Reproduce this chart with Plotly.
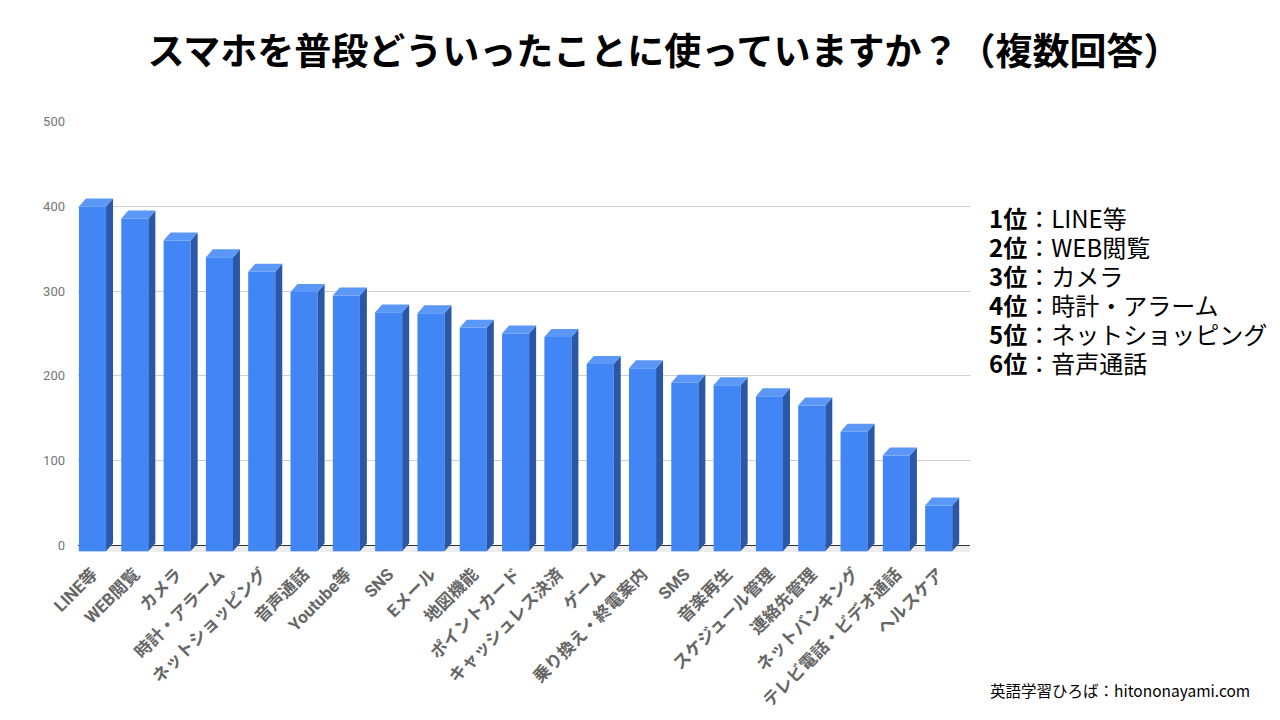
import plotly.graph_objects as go

# 回答項目と回答数
categories = [
    'LINE等', 'WEB閲覧', 'カメラ', '時計・アラーム', 'ネットショッピング', '音声通話',
    'Youtube等', 'SNS', 'Eメール', '地図機能', 'ポイントカード', 'キャッシュレス決済',
    'ゲーム', '乗り換え・終電案内', 'SMS', '音楽再生', 'スケジュール管理', '連絡先管理',
    'ネットバンキング', 'テレビ電話・ビデオ通話', 'ヘルスケア',
]
counts = [400, 386, 360, 340, 323, 299, 295, 275, 274, 257, 250, 246,
          214, 209, 192, 189, 176, 165, 134, 106, 47]

ranking = ['LINE等', 'WEB閲覧', 'カメラ', '時計・アラーム', 'ネットショッピング', '音声通話']

y_ticks = [0, 100, 200, 300, 400, 500]

# 3D風の見た目
front = '#4285F4'
side = '#2B58A6'
top = '#5B97F6'
w = 0.64      # 前面の幅
dx = 0.165    # 奥行き（x方向）
dy = 9.4      # 奥行き（y方向）
floor = 7     # 前面が基準線より下に出る分

xs = list(range(len(categories)))

side_x, side_y, top_x, top_y = [], [], [], []
for x, v in zip(xs, counts):
    r = x + w / 2
    l = x - w / 2
    side_x += [r, r, r + dx, r + dx, r, None]
    side_y += [-floor, v, v + dy, -floor + dy, -floor, None]
    top_x += [l, r, r + dx, l + dx, l, None]
    top_y += [v, v, v + dy, v + dy, v, None]

fig = go.Figure()
fig.add_trace(go.Bar(
    x=xs, y=[v + floor for v in counts], base=-floor, width=w,
    marker=dict(color=front, line=dict(width=0)),
    customdata=counts, hovertemplate='%{customdata}<extra></extra>',
))
fig.add_trace(go.Scatter(x=side_x, y=side_y, mode='lines', fill='toself',
                         fillcolor=side, line=dict(width=0), hoverinfo='skip'))
fig.add_trace(go.Scatter(x=top_x, y=top_y, mode='lines', fill='toself',
                         fillcolor=top, line=dict(width=0), hoverinfo='skip'))

# 床の影
fig.add_shape(type='rect', xref='paper', yref='y', x0=0, x1=1, y0=-floor - 2, y1=0,
              fillcolor='#EDEDED', line=dict(width=0), layer='below')

annotations = []
# 右側のランキング（1行ずつ）
for i, name in enumerate(ranking):
    annotations.append(dict(
        text=f'<b>{i + 1}位</b>：{name}',
        xref='paper', yref='paper', x=1.019, y=0.776 - i * 0.0673,
        xanchor='left', yanchor='middle', align='left', showarrow=False,
        font=dict(size=24, color='black', family='Noto Sans CJK JP'),
    ))
annotations.append(dict(
    text='英語学習ひろば：hitononayami.com',
    xref='paper', yref='paper', x=1.0205, y=-0.32,
    xanchor='left', yanchor='middle', showarrow=False,
    font=dict(size=15.5, color='black', family='Noto Sans CJK JP'),
))

# ページ側の余白(8px)を差し引いた位置
fig.update_layout(
    width=1280, height=720,
    margin=dict(l=70, r=318, t=113, b=176),
    paper_bgcolor='white', plot_bgcolor='white',
    showlegend=False,
    font=dict(family='Noto Sans CJK JP, sans-serif'),
    title=dict(
        text='スマホを普段どういったことに使っていますか？（複数回答）',
        x=0.5125, xref='container', xanchor='center',
        y=1 - 44 / 720, yref='container', yanchor='middle',
        font=dict(size=37, color='black', family='Noto Sans CJK JP', weight='bold'),
    ),
    xaxis=dict(
        range=[-0.343, 20.74],
        tickvals=xs, ticktext=categories, tickangle=-45,
        tickfont=dict(size=17, color='#666666', family='Roboto, Noto Sans CJK JP', weight='bold'),
        showgrid=False, zeroline=False, showline=False, ticks='',
        ticklabelstandoff=8,
    ),
    yaxis=dict(
        range=[-floor - 1, 501],
        tickvals=y_ticks,
        tickfont=dict(size=13, color='#757575', family='Roboto, Arial'),
        gridcolor='#D0D0D0', gridwidth=1,
        zeroline=True, zerolinecolor='#333333', zerolinewidth=1,
        showline=False, ticks='', ticklabelstandoff=12,
    ),
    annotations=annotations,
)

fig.write_html('out.html')
